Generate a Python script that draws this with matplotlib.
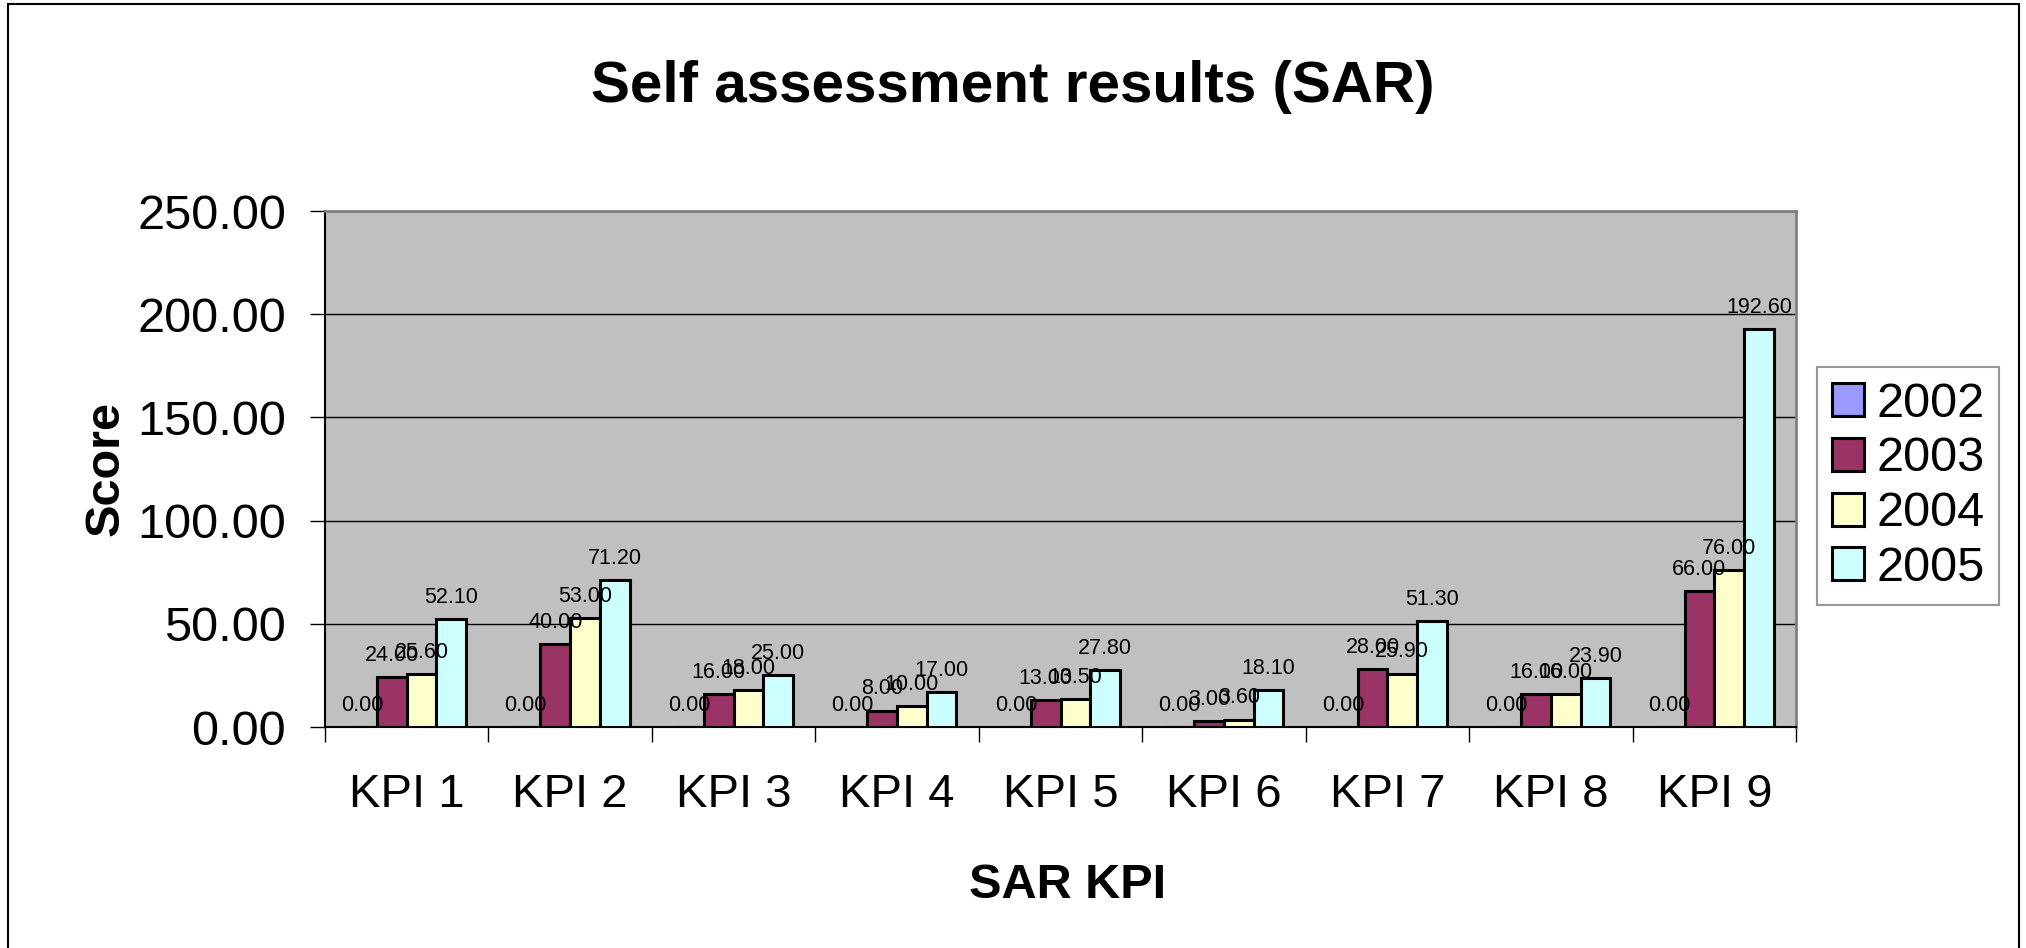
import matplotlib
matplotlib.use("Agg")
import matplotlib.pyplot as plt
import numpy as np
from matplotlib.patches import Rectangle

plt.rcParams['font.family'] = ['Liberation Sans', 'DejaVu Sans']

categories = ["KPI 1", "KPI 2", "KPI 3", "KPI 4", "KPI 5", "KPI 6", "KPI 7", "KPI 8", "KPI 9"]
years = ["2002", "2003", "2004", "2005"]
scores_2002 = [0.00, 0.00, 0.00, 0.00, 0.00, 0.00, 0.00, 0.00, 0.00]
scores_2003 = [24.00, 40.00, 16.00, 8.00, 13.00, 3.00, 28.00, 16.00, 66.00]
scores_2004 = [25.60, 53.00, 18.00, 10.00, 13.50, 3.60, 25.90, 16.00, 76.00]
scores_2005 = [52.10, 71.20, 25.00, 17.00, 27.80, 18.10, 51.30, 23.90, 192.60]
y_ticks = [0, 50, 100, 150, 200, 250]

series = [scores_2002, scores_2003, scores_2004, scores_2005]
colors = ["#9999FF", "#993366", "#FFFFCC", "#CCFFFF"]

fig = plt.figure(figsize=(20.26, 9.48), dpi=100)
ax = fig.add_axes([0.1604, 0.2331, 0.7261, 0.5443])
ax.set_facecolor("#C0C0C0")

x = np.arange(len(categories))
w = 1 / (len(series) + 1.5)
for i, (vals, col, yr) in enumerate(zip(series, colors, years)):
    pos = x + (i - 1.5) * w
    bars = ax.bar(pos, vals, width=w, color=col, edgecolor="black",
                  linewidth=2.2, label=yr, zorder=3)
    # value labels above each bar
    for b, v in zip(bars, vals):
        ax.annotate(f"{v:.2f}", (b.get_x() + b.get_width() / 2, v),
                    xytext=(0, 8), textcoords="offset points",
                    ha="center", va="bottom", fontsize=15.5, zorder=4)

ax.set_xlim(-0.5, len(categories) - 0.5)
ax.set_ylim(0, 250)
ax.set_yticks(y_ticks)
ax.set_yticklabels([f"{t:.2f}" for t in y_ticks], fontsize=35)
ax.yaxis.grid(True, color="black", linewidth=1, zorder=0)
ax.set_axisbelow(True)

ax.set_xticks(x)
ax.set_xticklabels(categories, fontsize=34)
ax.set_xticks(np.arange(len(categories) + 1) - 0.5, minor=True)
ax.tick_params(axis="x", which="major", length=0, pad=33)
ax.tick_params(axis="x", which="minor", length=11, width=1, direction="out")
ax.tick_params(axis="y", length=11, width=1, direction="out", pad=17)

for s in ["top", "right"]:
    ax.spines[s].set_color("#808080")
    ax.spines[s].set_linewidth(2)
for s in ["left", "bottom"]:
    ax.spines[s].set_color("black")
    ax.spines[s].set_linewidth(1.5)

fig.text(0.5, 0.908, "Self assessment results (SAR)", ha="center", va="center",
         fontsize=42, fontweight="bold")
fig.text(0.0523, 0.506, "Score", rotation=90, ha="center", va="center",
         fontsize=35, fontweight="bold")
fig.text(0.5267, 0.066, "SAR KPI", ha="center", va="center",
         fontsize=35, fontweight="bold")

leg = ax.legend(loc="center left", bbox_to_anchor=(0.897, 0.487),
                bbox_transform=fig.transFigure, fontsize=35, frameon=True,
                fancybox=False, edgecolor="#808080", handlelength=0.66,
                handleheight=0.66, handletextpad=0.25, labelspacing=0.2,
                borderpad=0.3, borderaxespad=0)
leg.get_frame().set_linewidth(1.5)

# outer chart border
fig.patches.append(Rectangle((8 / 2026, -0.05), (2019 - 8) / 2026, 1.05 - 4 / 948,
                             transform=fig.transFigure, fill=False,
                             edgecolor="black", linewidth=1.5))

fig.savefig("out.png", dpi=100)
